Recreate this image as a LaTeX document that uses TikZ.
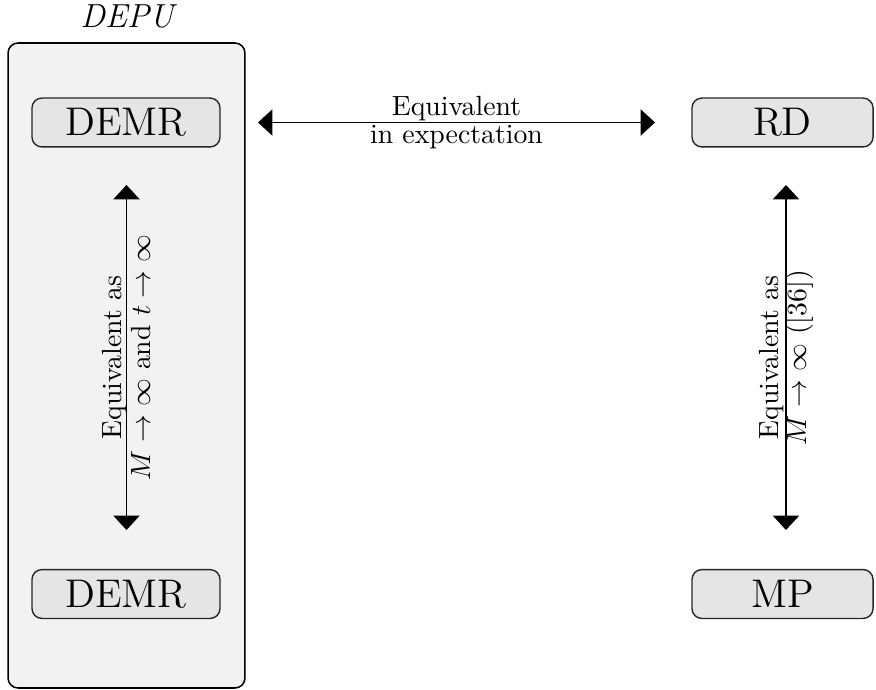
\documentclass[tikz,border=0pt]{standalone}
\usetikzlibrary{arrows.meta}
\begin{document}
\begin{tikzpicture}[x=0.36pt,y=-0.36pt,
  group/.style={draw=black, line width=0.55pt, fill=gray!10, rounded corners=3.6pt,
    minimum width=85.3pt, minimum height=232.2pt, inner sep=0pt},
  model/.style={draw=black!85, line width=0.5pt, fill=gray!20, rounded corners=3.6pt,
    minimum height=17.6pt, inner sep=0pt, font=\Large},
  equiv/.style={line width=0.4pt, {Triangle[length=5.2pt,width=9.5pt]}-{Triangle[length=5.2pt,width=9.5pt]}},
  lbl/.style={font=\fontsize{10}{10.1}\selectfont, align=center, inner sep=0pt}]
  \useasboundingbox (0,0) rectangle (876,690);

  % DEPU group container and its title
  \node[group] (depu) at (126.5,365.5) {};
  \node[font=\large\itshape, inner sep=0pt] (depulabel) at (127,16) {DEPU};

  % models
  \node[model, minimum width=67.7pt] (demrA) at (126,122.5) {DEMR};
  \node[model, minimum width=67.7pt] (demrB) at (126,594) {DEMR};
  \node[model, minimum width=65.2pt] (rd) at (782.5,122.5) {RD};
  \node[model, minimum width=65.2pt] (mp) at (782.5,594) {MP};

  % arrow end points
  \coordinate (hA) at (258,122.5);
  \coordinate (hB) at (655,122.5);
  \coordinate (lA) at (126.5,185);
  \coordinate (lB) at (126.5,530);
  \coordinate (rA) at (786,185);
  \coordinate (rB) at (786,530);

  % equivalences
  \draw[equiv] (hA) -- node[lbl] (hlbl) {Equivalent\\in expectation} (hB);
  \draw[equiv] (lA) -- node[lbl, rotate=90] (llbl) {Equivalent as\\$M\to\infty$ and $t\to\infty$} (lB);
  \draw[equiv] (rA) -- node[lbl, rotate=90] (rlbl) {Equivalent as\\$M\to\infty$ ([36])} (rB);
\end{tikzpicture}
\end{document}
